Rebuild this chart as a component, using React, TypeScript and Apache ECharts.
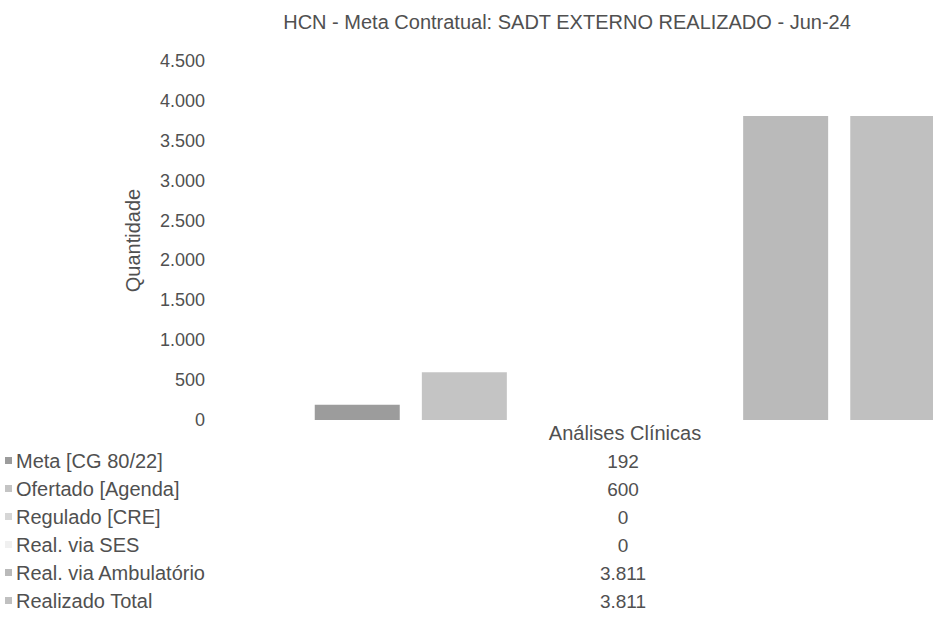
import React, { useEffect, useRef } from "react";
import * as echarts from "echarts";

const titleText = "HCN - Meta Contratual: SADT EXTERNO REALIZADO - Jun-24";
const categories = ["Análises Clínicas"];
const seriesNames = [
  "Meta [CG 80/22]",
  "Ofertado [Agenda]",
  "Regulado [CRE]",
  "Real. via SES",
  "Real. via Ambulatório",
  "Realizado Total",
];
const metaValues = [192];
const ofertadoValues = [600];
const reguladoValues = [0];
const sesValues = [0];
const ambulatorioValues = [3811];
const totalValues = [3811];
const seriesValues = [metaValues, ofertadoValues, reguladoValues, sesValues, ambulatorioValues, totalValues];
const seriesColors = ["#9c9c9c", "#c4c4c4", "#d6d6d6", "#f0f0f0", "#bababa", "#c0c0c0"];
const yTicks = [0, 500, 1000, 1500, 2000, 2500, 3000, 3500, 4000, 4500];

const FONT = "'Liberation Sans', Arial, sans-serif";
const TEXT = "#505050";
const CHART_W = 1037;
const CHART_H = 627;

function fmt(v: number): string {
  return String(Math.round(v)).replace(/\B(?=(\d{3})+(?!\d))/g, ".");
}

export default function App() {
  const ref = useRef<HTMLDivElement>(null);
  useEffect(() => {
    if (!ref.current) return;
    const chart = echarts.init(ref.current, undefined, { renderer: "svg" });
    const gridLeft = 213;
    const gridRight = 0;
    const centerX = gridLeft + (CHART_W - gridLeft - gridRight) / 2;
    const rowY0 = 461;
    const rowStep = 28;
    const graphic: any[] = [];
    seriesNames.forEach((name, i) => {
      const y = rowY0 + i * rowStep;
      graphic.push({
        type: "rect",
        shape: { x: 5, y: y - 4, width: 7, height: 7 },
        style: { fill: seriesColors[i] },
        silent: true,
      });
      graphic.push({
        type: "text",
        x: 16,
        y,
        style: { text: name, fill: TEXT, font: `20px ${FONT}`, textVerticalAlign: "middle", textAlign: "left" },
        silent: true,
      });
      graphic.push({
        type: "text",
        x: centerX - 2,
        y,
        style: {
          text: fmt(seriesValues[i][0]),
          fill: TEXT,
          font: `19px ${FONT}`,
          textVerticalAlign: "middle",
          textAlign: "center",
        },
        silent: true,
      });
    });
    chart.setOption({
      animation: false,
      backgroundColor: "#ffffff",
      title: {
        text: titleText,
        left: 562,
        top: 7,
        textAlign: "center",
        textStyle: { fontFamily: FONT, fontSize: 20, fontWeight: "normal", color: TEXT },
      },
      grid: { left: gridLeft, right: gridRight, top: 61, bottom: 207, containLabel: false },
      xAxis: {
        type: "category",
        data: categories,
        axisLine: { show: false },
        axisTick: { show: false },
        axisLabel: { fontFamily: FONT, fontSize: 20, color: TEXT, margin: 3 },
      },
      yAxis: {
        type: "value",
        min: yTicks[0],
        max: yTicks[yTicks.length - 1],
        interval: 500,
        name: "Quantidade",
        nameLocation: "middle",
        nameGap: 70,
        nameTextStyle: { fontFamily: FONT, fontSize: 20, color: TEXT },
        axisLine: { show: false },
        axisTick: { show: false },
        splitLine: { show: false },
        axisLabel: { fontFamily: FONT, fontSize: 18, color: TEXT, margin: 8, formatter: (v: number) => fmt(v) },
      },
      series: seriesNames.map((name, i) => ({
        name,
        type: "bar",
        data: seriesValues[i],
        barWidth: 85,
        barGap: "26%",
        itemStyle: { color: seriesColors[i] },
      })),
      graphic,
    });
    return () => chart.dispose();
  }, []);
  return (
    <div style={{ position: "fixed", left: 0, top: 0, width: 933, height: 627, overflow: "hidden" }}>
      <div ref={ref} style={{ width: CHART_W, height: CHART_H }} />
    </div>
  );
}
